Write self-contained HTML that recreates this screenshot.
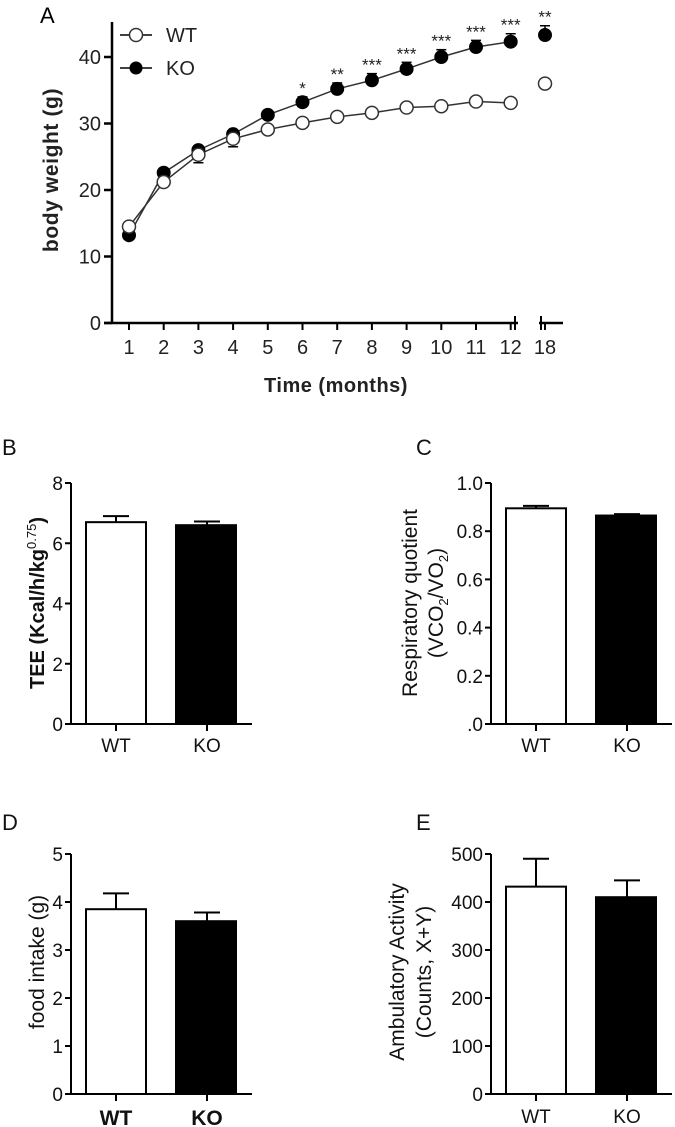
<!DOCTYPE html>
<html><head><meta charset="utf-8"><style>
html,body{margin:0;padding:0;background:#fff;overflow:hidden;}
svg{display:block;font-family:"Liberation Sans",sans-serif;}
</style></head><body>
<svg id="fig" width="675" height="1127" viewBox="0 0 675 1127" xmlns="http://www.w3.org/2000/svg"></svg>
<script>
// Panel A data
const months = [1,2,3,4,5,6,7,8,9,10,11,12,18];
const monthLabels = ["1","2","3","4","5","6","7","8","9","10","11","12","18"];
const wtWeight = [14.5,21.2,25.3,27.7,29.1,30.1,31.0,31.6,32.4,32.6,33.3,33.1,36.0];
const wtErr = [0.4,0.6,1.2,1.2,0.5,0.5,0.5,0.5,0.5,0.5,0.5,0.5,0.5];
const koWeight = [13.2,22.6,26.0,28.4,31.3,33.2,35.2,36.5,38.2,40.0,41.5,42.3,43.3];
const koErr = [0.4,0.5,0.5,0.5,0.6,0.8,0.9,1.0,1.0,1.1,1.0,1.2,1.4];
const sigMarks = ["","","","","","*","**","***","***","***","***","***","**"];
const aTicks = [0,10,20,30,40];
// Bar panels data
const groups = ["WT","KO"];
const teeVals = [6.7,6.6], teeErr = [0.2,0.12], teeTicks = [0,2,4,6,8];
const rqVals = [0.895,0.865], rqErr = [0.01,0.006], rqTicks = [0,0.2,0.4,0.6,0.8,1.0];
const rqTickLabels = [".0","0.2","0.4","0.6","0.8","1.0"];
const foodVals = [3.85,3.6], foodErr = [0.33,0.18], foodTicks = [0,1,2,3,4,5];
const actVals = [432,410], actErr = [58,35], actTicks = [0,100,200,300,400,500];

const svg = document.getElementById('fig');
const NS = "http://www.w3.org/2000/svg";
function mk(tag, attrs, parent, text){
  const e = document.createElementNS(NS, tag);
  for (const k in attrs) e.setAttribute(k, attrs[k]);
  if (text !== undefined) e.textContent = text;
  (parent||svg).appendChild(e);
  return e;
}
function ln(x1,y1,x2,y2,w,p){return mk('line',{x1,y1,x2,y2,stroke:'#000','stroke-width':w||2},p);}

// ---------- Panel A ----------
const gA = mk('g',{});


const ax0 = 129, axStep = 34.7;
function xA(i){ return months[i]===18 ? 545 : ax0 + (months[i]-1)*axStep; }
const y0A = 323, yPer = 6.65;
function yA(v){ return y0A - v*yPer; }
const la = mk('text',{x:40,y:23,'font-size':22},gA,'A');
 
ln(112,22,112,y0A+1,2.5,gA);
aTicks.forEach(t=>{
  ln(104,yA(t),112,yA(t),2.5,gA);
  const tx = mk('text',{x:101,y:yA(t)+7,'text-anchor':'end','font-size':20,fill:'#222'},gA,String(t));
   
});
ln(104,y0A,518,y0A,2.5,gA);
ln(515,y0A-7,515,y0A+7,2,gA);
ln(541,y0A-7,541,y0A+7,2,gA);
ln(539,y0A,563,y0A,2.5,gA);
months.forEach((m,i)=>{
  ln(xA(i),y0A,xA(i),y0A+7,2,gA);
  const tx = mk('text',{x:xA(i),y:354,'text-anchor':'middle','font-size':20,fill:'#222'},gA,monthLabels[i]);
   
});
const xt = mk('text',{x:336,y:392,'text-anchor':'middle','font-size':20,'font-weight':'bold',fill:'#222','letter-spacing':'0.5'},gA,'Time (months)');
 
const yt = mk('text',{x:0,y:0,'text-anchor':'middle','font-size':21,'font-weight':'bold',fill:'#222','letter-spacing':'0.6',transform:'translate(58,170) rotate(-90)'},gA,'body weight (g)');
 
function poly(vals){ return vals.slice(0,12).map((v,i)=>xA(i)+','+yA(v)).join(' '); }
mk('polyline',{points:poly(wtWeight),fill:'none',stroke:'#333','stroke-width':1.5},gA);
mk('polyline',{points:poly(koWeight),fill:'none',stroke:'#333','stroke-width':1.5},gA);
months.forEach((m,i)=>{
  ln(xA(i),yA(koWeight[i]),xA(i),yA(koWeight[i]+koErr[i]),1.5,gA);
  ln(xA(i)-5,yA(koWeight[i]+koErr[i]),xA(i)+5,yA(koWeight[i]+koErr[i]),1.5,gA);
  ln(xA(i),yA(wtWeight[i]),xA(i),yA(wtWeight[i]-wtErr[i]),1.5,gA);
  ln(xA(i)-5,yA(wtWeight[i]-wtErr[i]),xA(i)+5,yA(wtWeight[i]-wtErr[i]),1.5,gA);
  const k = mk('circle',{cx:xA(i),cy:yA(koWeight[i]),r:6.5,fill:'#000',stroke:'#000','stroke-width':1},gA);
   
  const w = mk('circle',{cx:xA(i),cy:yA(wtWeight[i]),r:6.5,fill:'#fff',stroke:'#333','stroke-width':1.5},gA);
   
  if (sigMarks[i]) {
    const s = mk('text',{x:xA(i),y:yA(koWeight[i]+koErr[i])-3,'text-anchor':'middle','font-size':17,fill:'#222'},gA,sigMarks[i]);
     
  }
});
const lg = mk('g',{},gA);
 
ln(120,35,152,35,1.5,lg); mk('circle',{cx:136,cy:35,r:6.5,fill:'#fff',stroke:'#333','stroke-width':1.5},lg);
mk('text',{x:166,y:42,'font-size':20,fill:'#222'},lg,'WT');
ln(120,68,152,68,1.5,lg); mk('circle',{cx:136,cy:68,r:6.5,fill:'#000'},lg);
mk('text',{x:166,y:75,'font-size':20,fill:'#222'},lg,'KO');

// ---------- Bar panels ----------
function barPanel(opt){
  const g = mk('g',{});
  
  
  const {ax, yTop, yBot, vmax, ticks} = opt;
  const y = v => yBot - v/vmax*(yBot-yTop);
  const L = mk('text',{x:opt.lx,y:opt.ly,'font-size':22,fill:'#111'},g,opt.letter);
   
  ln(ax,yTop,ax,yBot+1,2,g);
  ticks.forEach((t,i)=>{
    ln(ax-6,y(t),ax,y(t),2,g);
    const tx = mk('text',{x:ax-8,y:y(t)+7,'text-anchor':'end','font-size':19,fill:'#111'},g,opt.tickLabels?opt.tickLabels[i]:String(t));
     
  });
  ln(ax-6,yBot,ax+181,yBot,2,g);
  const bx = [ax+15, ax+105], cx = [ax+45, ax+136];
  groups.forEach((gname,i)=>{
    const top = y(opt.vals[i]), et = y(opt.vals[i]+opt.err[i]);
    ln(cx[i],top,cx[i],et,2,g);
    ln(cx[i]-13,et,cx[i]+13,et,2,g);
    const r = mk('rect',{x:bx[i],y:top,width:60,height:yBot-top,fill:i?'#000':'#fff',stroke:'#000','stroke-width':2},g);
     
    ln(cx[i],yBot,cx[i],yBot+7,2,g);
    const tx = mk('text',{x:cx[i],y:yBot+opt.xlDy,'text-anchor':'middle','font-size':opt.xlSize,'font-weight':opt.xlBold?'bold':'normal',fill:'#111'},g,gname);
     
  });
  opt.titles.forEach(t=>{
    const tt = mk('text',{x:0,y:0,'text-anchor':'middle','font-size':t.fs||21,'font-weight':t.bold?'bold':'normal',fill:'#111',transform:`translate(${t.x},${opt.ty}) rotate(-90)`},g);
    tt.innerHTML = t.html;
     
  });
}
barPanel({name:'panel-b-tee',letter:'B',lx:2,ly:455,ax:71,yTop:483,yBot:724,vmax:8,ticks:teeTicks,vals:teeVals,err:teeErr,xlDy:28,xlSize:19,ty:603,
  titles:[{x:44,bold:true,fs:20,html:'TEE (Kcal/h/kg<tspan dy="-8" font-size="13" font-weight="normal">0.75</tspan><tspan dy="8">)</tspan>'}]});
barPanel({name:'panel-c-respiratory-quotient',letter:'C',lx:416,ly:455,ax:491,yTop:483,yBot:724,vmax:1,ticks:rqTicks,tickLabels:rqTickLabels,vals:rqVals,err:rqErr,xlDy:28,xlSize:19,ty:603,
  titles:[{x:417,html:'Respiratory quotient'},{x:443,html:'(VCO<tspan dy="5" font-size="13">2</tspan><tspan dy="-5">/VO</tspan><tspan dy="5" font-size="13">2</tspan><tspan dy="-5">)</tspan>'}]});
barPanel({name:'panel-d-food-intake',letter:'D',lx:2,ly:830,ax:71,yTop:854,yBot:1094,vmax:5,ticks:foodTicks,vals:foodVals,err:foodErr,xlDy:31,xlSize:21,xlBold:true,ty:962,
  titles:[{x:44,fs:21,html:'food intake (g)'}]});
barPanel({name:'panel-e-ambulatory-activity',letter:'E',lx:416,ly:830,ax:491,yTop:854,yBot:1094,vmax:500,ticks:actTicks,vals:actVals,err:actErr,xlDy:29,xlSize:19,ty:972,
  titles:[{x:404,html:'Ambulatory Activity'},{x:431,html:'(Counts, X+Y)'}]});
</script>
</body></html>
